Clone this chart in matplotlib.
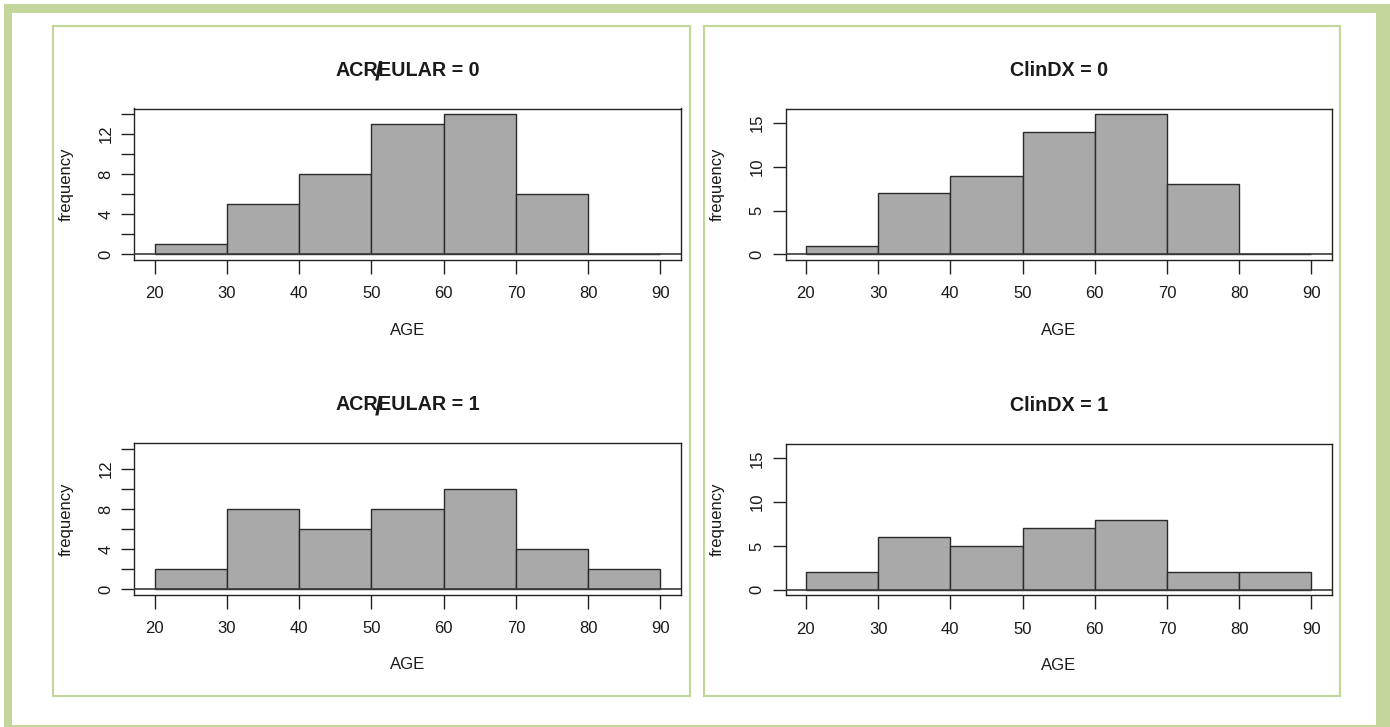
import matplotlib
matplotlib.use("Agg")
import matplotlib.pyplot as plt
from matplotlib.patches import Rectangle

plt.rcParams['font.family'] = ['Liberation Sans', 'DejaVu Sans']

# Age bins (left edges ... right edge) and counts per bin
bin_edges = [20, 30, 40, 50, 60, 70, 80, 90]
acr_eular_0 = [1, 5, 8, 13, 14, 6, 0]
acr_eular_1 = [2, 8, 6, 8, 10, 4, 2]
clindx_0 = [1, 7, 9, 14, 16, 8, 0]
clindx_1 = [2, 6, 5, 7, 8, 2, 2]

x_ticks = [20, 30, 40, 50, 60, 70, 80, 90]
acr_yticks = [0, 2, 4, 6, 8, 10, 12, 14]
acr_ylabels = ['0', '', '4', '', '8', '', '12', '']
clin_yticks = [0, 5, 10, 15]
clin_ylabels = ['0', '5', '10', '15']

W, H = 1390, 727
fig = plt.figure(figsize=(W / 100, H / 100), dpi=100)
fig.patch.set_facecolor('white')

GREEN = '#c3d69b'
TXT = '#1a1a1a'
FS = 12


def px_rect(x0, y0, x1, y1):
    """Pixel box (top-left origin) -> figure fraction [l, b, w, h]."""
    return [x0 / W, 1 - y1 / H, (x1 - x0) / W, (y1 - y0) / H]


# outer frame bands
for (x0, y0, x1, y1) in [(4, 4, 12, 727), (4, 4, 1390, 13),
                         (1376, 4, 1390, 727), (4, 725, 1390, 727)]:
    l, b, w, h = px_rect(x0, y0, x1, y1)
    fig.patches.append(Rectangle((l, b), w, h, transform=fig.transFigure,
                                 facecolor=GREEN, edgecolor='none', zorder=0))

# two framed panels
for (x0, y0, x1, y1) in [(53, 26, 690, 696), (704, 26, 1340, 696)]:
    l, b, w, h = px_rect(x0, y0, x1, y1)
    fig.patches.append(Rectangle((l, b), w, h, transform=fig.transFigure,
                                 facecolor='none', edgecolor=GREEN,
                                 linewidth=1.6, zorder=0))


def histogram(box, counts, ymax, yticks, ylabels):
    ax = fig.add_axes(px_rect(*box))
    widths = [bin_edges[i + 1] - bin_edges[i] for i in range(len(counts))]
    ax.bar(bin_edges[:-1], counts, width=widths, align='edge',
           color='#a9a9a9', edgecolor='#2a2a2a', linewidth=1.0, zorder=2)
    ax.axhline(0, color='#3a3a3a', linewidth=1.2, zorder=3)
    span = bin_edges[-1] - bin_edges[0]
    ax.set_xlim(bin_edges[0] - 0.04 * span, bin_edges[-1] + 0.04 * span)
    ax.set_ylim(-0.04 * ymax, 1.04 * ymax)
    ax.set_xticks(x_ticks)
    ax.set_xticklabels([str(t) for t in x_ticks])
    ax.set_yticks(yticks)
    ax.set_yticklabels(ylabels, rotation=90, va='center')
    ax.tick_params(axis='x', length=10, width=1.0, pad=9, labelsize=FS,
                   colors='#222222', labelcolor=TXT)
    ax.tick_params(axis='y', length=9.5, width=1.0, pad=5.5, labelsize=FS,
                   colors='#222222', labelcolor=TXT)
    for s in ax.spines.values():
        s.set_color('#222222')
        s.set_linewidth(1.0)
    ax.set_xlabel('AGE', fontsize=FS, color=TXT)
    ax.xaxis.set_label_coords(0.5, -0.465)
    ax.xaxis.label.set_va('center')
    ax.set_ylabel('frequency', fontsize=FS, color=TXT)
    ax.yaxis.set_label_coords(-0.125, 0.5)
    ax.yaxis.label.set_va('center')
    return ax


boxes = {
    'tl': (134.3, 108.5, 680.7, 259.8),
    'bl': (134.3, 443.3, 680.7, 594.6),
    'tr': (785.7, 108.7, 1331.7, 260.0),
    'br': (785.7, 444.0, 1331.7, 595.3),
}

histogram(boxes['tl'], acr_eular_0, 14, acr_yticks, acr_ylabels)
histogram(boxes['bl'], acr_eular_1, 14, acr_yticks, acr_ylabels)
histogram(boxes['tr'], clindx_0, 16, clin_yticks, clin_ylabels)
histogram(boxes['br'], clindx_1, 16, clin_yticks, clin_ylabels)

title_kw = dict(fontsize=14.2, fontweight='bold', color=TXT, va='center')
renderer = fig.canvas.get_renderer()


def acr_title(box, suffix):
    """Title 'ACR/EULAR = n' with the slash struck over the R/E join."""
    xc = (box[0] + box[2]) / 2 / W
    yc = 1 - (box[1] - 38.5) / H
    left = fig.text(0, yc, 'ACR', ha='left', **title_kw)
    right = fig.text(0, yc, 'EULAR' + suffix, ha='left', **title_kw)
    wl = left.get_window_extent(renderer).width / W
    wr = right.get_window_extent(renderer).width / W
    x0 = xc - (wl + wr) / 2
    left.set_x(x0)
    right.set_x(x0 + wl)
    fig.text(x0 + wl, yc - 3 / H, '/', ha='center', fontsize=19,
             fontweight='bold', color=TXT, va='center')


def plain_title(box, label):
    xc = (box[0] + box[2]) / 2 / W
    yc = 1 - (box[1] - 38.5) / H
    fig.text(xc, yc, label, ha='center', **title_kw)


acr_title(boxes['tl'], ' = 0')
acr_title(boxes['bl'], ' = 1')
plain_title(boxes['tr'], 'ClinDX = 0')
plain_title(boxes['br'], 'ClinDX = 1')

fig.savefig('out.png', dpi=100)
